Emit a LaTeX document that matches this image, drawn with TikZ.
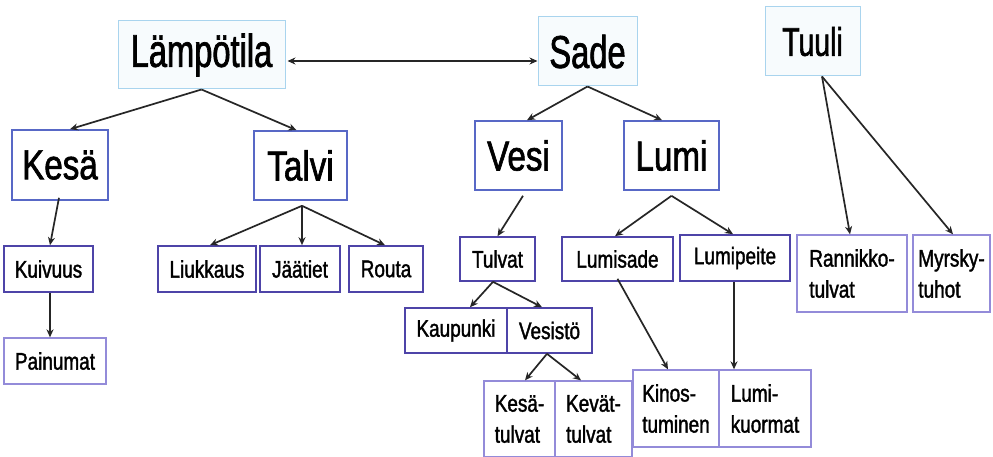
\documentclass[tikz,border=0pt]{standalone}
\usepackage{fontspec}
\setmainfont{Liberation Sans}[FakeStretch=0.79,FakeBold=1.5]
\newfontfamily\topfont{Liberation Sans}[FakeStretch=0.71,FakeBold=1.5]
\usetikzlibrary{arrows.meta}
\definecolor{topline}{HTML}{A9D4EE}
\definecolor{topfill}{HTML}{F7FBFD}
\definecolor{midline}{HTML}{5868C6}
\definecolor{leafline}{HTML}{4E44A8}
\definecolor{paleline}{HTML}{938BD9}
\definecolor{arrowgray}{HTML}{262626}
\begin{document}
\begin{tikzpicture}
  [x=1pt,y=-1pt,
   sz/.style 2 args={minimum width=#1pt,minimum height=#2pt},
   box/.style={rectangle,inner sep=0pt,fill=white,text=black},
   topbox/.style={box,draw=topline,fill=topfill,line width=1pt,font=\topfont\fontsize{46}{50}\selectfont},
   midbox/.style={box,draw=midline,line width=1.6pt,font=\fontsize{42}{46}\selectfont},
   leafbox/.style={box,draw=leafline,line width=1.6pt,font=\fontsize{24}{31}\selectfont},
   palebox/.style={box,draw=paleline,line width=1.3pt,align=left,font=\fontsize{24}{31}\selectfont},
   link/.style={draw=arrowgray,line width=1.7pt,-{Stealth[length=8pt,width=7pt]}}]

  \fill[white] (0,0) rectangle (993,457);
  \useasboundingbox (0,0) rectangle (993,457);

  % top row
  \node[topbox,sz={167}{68}] (lampo) at (201.5,55) {Lämpötila};
  \node[topbox,sz={99}{69}] (sade) at (587.5,51.5) {Sade};
  \node[topbox,sz={95}{69},font=\topfont\fontsize{40}{44}\selectfont] (tuuli) at (812.5,41.5) {Tuuli};

  % second row
  \node[midbox,sz={96}{70}] (kesa) at (60,165) {Kesä};
  \node[midbox,sz={93}{69}] (talvi) at (300.5,165.5) {Talvi};
  \node[midbox,sz={87}{69}] (vesi) at (518.5,155.5) {Vesi};
  \node[midbox,sz={95}{69}] (lumi) at (671.5,155.5) {Lumi};

  % third row
  \node[leafbox,sz={89}{46}] (kuivuus) at (48.5,269) {Kuivuus};
  \node[palebox,sz={102}{46}] (painumat) at (55,361) {Painumat};
  \node[leafbox,sz={98}{46}] (liukkaus) at (207,269) {Liukkaus};
  \node[leafbox,sz={80}{46}] (jaatiet) at (300,269) {Jäätiet};
  \node[leafbox,sz={74}{46}] (routa) at (386,269) {Routa};
  \node[leafbox,sz={75}{44}] (tulvat) at (497.5,259) {Tulvat};
  \node[leafbox,sz={111}{44}] (lumisade) at (617.5,259) {Lumisade};
  \node[leafbox,sz={110}{46}] (lumipeite) at (735,258) {Lumipeite};
  \node[palebox,sz={110}{77}] (rannikko) at (852,273.5) {Rannikko-\\tulvat};
  \node[palebox,sz={77}{77}] (myrsky) at (951.5,273.5) {Myrsky-\\tuhot};

  % lower rows
  \node[leafbox,sz={102}{45}] (kaupunki) at (456,330.5) {Kaupunki};
  \node[leafbox,sz={85}{45}] (vesisto) at (549.5,330.5) {Vesistö};
  \node[palebox,sz={71}{76}] (kesatulvat) at (519.5,419) {Kesä-\\tulvat};
  \node[palebox,sz={77}{76}] (kevattulvat) at (593.5,419) {Kevät-\\tulvat};
  \node[palebox,sz={86}{77}] (kinos) at (676,408.5) {Kinos-\\tuminen};
  \node[palebox,sz={92}{77}] (lumikuormat) at (765,408.5) {Lumi-\\kuormat};

  \draw[link,{Stealth[length=8pt,width=7pt]}-{Stealth[length=8pt,width=7pt]}]
    ([xshift=2pt,yshift=-6pt]lampo.east) -- ([yshift=-9.5pt]sade.west);
  \path[every edge/.style=link]
    (lampo.south) edge ([xshift=10pt]kesa.north)
    (lampo.south) edge ([xshift=-4pt]talvi.north)
    (sade.south) edge ([xshift=8.5pt]vesi.north)
    (sade.south) edge ([xshift=-9.5pt]lumi.north)
    ([xshift=9.5pt]tuuli.south) edge ([xshift=-2pt]rannikko.north)
    ([xshift=9.5pt]tuuli.south) edge ([xshift=1.5pt]myrsky.north)
    ([xshift=-1pt,yshift=3pt]kesa.south) edge ([xshift=1.5pt]kuivuus.north)
    ([xshift=1.5pt]kuivuus.south) edge ([xshift=-5pt]painumat.north)
    ([xshift=1.5pt,yshift=-5pt]talvi.south) edge ([xshift=3pt]liukkaus.north)
    ([xshift=1.5pt,yshift=-5pt]talvi.south) edge ([xshift=2pt]jaatiet.north)
    ([xshift=1.5pt,yshift=-5pt]talvi.south) edge ([xshift=-1pt]routa.north)
    ([xshift=4.5pt,yshift=-5pt]vesi.south) edge (tulvat.north)
    ([yshift=-5pt]lumi.south) edge ([xshift=-2.5pt]lumisade.north)
    ([yshift=-5pt]lumi.south) edge ([xshift=-2pt]lumipeite.north)
    ([xshift=-4.5pt]tulvat.south) edge ([xshift=14pt]kaupunki.north)
    ([xshift=-4.5pt]tulvat.south) edge ([xshift=-7.5pt]vesisto.north)
    ([xshift=-2.5pt]vesisto.south) edge ([xshift=5.5pt]kesatulvat.north)
    ([xshift=-2.5pt]vesisto.south) edge ([xshift=-12.5pt]kevattulvat.north)
    ([yshift=3pt]lumisade.south) edge ([xshift=-8pt]kinos.north)
    ([xshift=-1pt]lumipeite.south) edge ([xshift=-31pt]lumikuormat.north);
\end{tikzpicture}
\end{document}
